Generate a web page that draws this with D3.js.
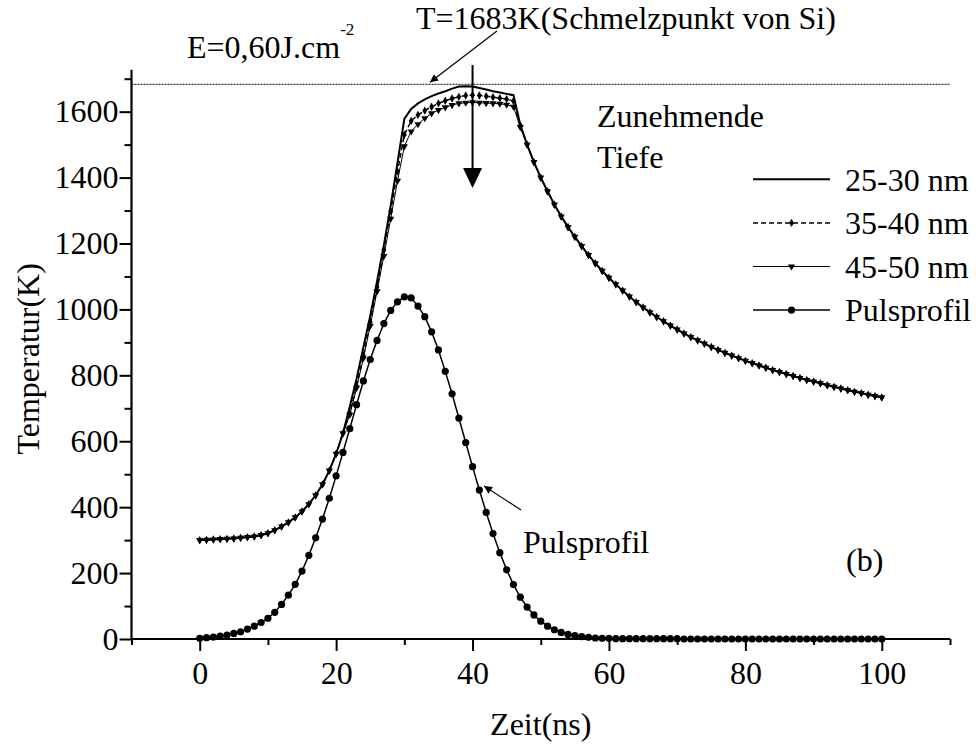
<!DOCTYPE html>
<html>
<head>
<meta charset="utf-8">
<script src="https://cdn.jsdelivr.net/npm/d3@7"></script>
<style>
  body { margin: 0; background: #fff; }
  svg { display: block; }
  text { font-family: "Liberation Serif", "Times New Roman", serif; fill: #000; }
</style>
</head>
<body>
<div id="wrapper"></div>
<script>
// Zeitachse (ns), Schritt 1 ns
const zeit = d3.range(0, 101, 1);

// gemeinsamer Anstieg 0..21 ns
const anstieg = [300, 301, 302, 303, 304, 305, 307, 309, 311, 315, 321,
    330, 341, 354, 369, 387, 409, 436, 469, 511, 562, 624];

// Spitzenbereich 22..47 ns, je Tiefe
const spitze25 = [705, 790, 885, 980, 1085, 1195, 1315, 1445, 1578, 1608,
    1625, 1637, 1647, 1655, 1662, 1670, 1676, 1677, 1676, 1672,
    1667, 1662, 1658, 1654, 1650, 1560];
const spitze35 = [685, 768, 860, 962, 1068, 1180, 1298, 1418, 1530, 1572,
    1590, 1603, 1615, 1625, 1633, 1640, 1645, 1649, 1650, 1649,
    1647, 1644, 1641, 1638, 1632, 1558];
const spitze45 = [680, 762, 852, 950, 1055, 1162, 1275, 1390, 1495, 1540,
    1562, 1580, 1595, 1605, 1613, 1620, 1625, 1627, 1628, 1627,
    1626, 1625, 1624, 1621, 1615, 1553];

// gemeinsame Abkuehlung 48..100 ns
const abkuehlung = [1500, 1447, 1400, 1358, 1318, 1282, 1250, 1220, 1192, 1165,
    1140, 1117, 1096, 1076, 1057, 1039, 1022, 1006, 991, 977,
    964, 951, 939, 927, 916, 906, 896, 886, 877, 868,
    860, 852, 844, 837, 830, 823, 816, 810, 804, 798,
    792, 786, 781, 776, 770, 765, 760, 755, 750, 746,
    741, 737, 733];

// Pulsprofil 0..100 ns
const puls = [2, 4, 6, 9, 12, 17, 22, 30, 39, 50,
    63, 81, 105, 133, 166, 206, 254, 307, 364, 427,
    495, 566, 638, 711, 783, 848, 906, 957, 997, 1023,
    1038, 1035, 1010, 978, 932, 877, 812, 744, 670, 596,
    523, 452, 384, 320, 262, 210, 165, 127, 97, 73,
    54, 39, 28, 20, 14, 10, 7, 5, 3, 2,
    2, 1, 1, 1, 1, 1, 1, 1, 1, 1,
    1, 0, 0, 0, 0, 0, 0, 0, 0, 0,
    0, 0, 0, 0, 0, 0, 0, 0, 0, 0,
    0, 0, 0, 0, 0, 0, 0, 0, 0, 0,
    0];

const t25 = [...anstieg, ...spitze25, ...abkuehlung];
const t35 = [...anstieg, ...spitze35, ...abkuehlung];
const t45 = [...anstieg, ...spitze45, ...abkuehlung];

const legendLabels = ['25-30 nm', '35-40 nm', '45-50 nm', 'Pulsprofil'];
const xMajor = [0, 20, 40, 60, 80, 100];
const xMinor = [-10, 10, 30, 50, 70, 90, 110];
const yMajor = [0, 200, 400, 600, 800, 1000, 1200, 1400, 1600];
const yMinor = [100, 300, 500, 700, 900, 1100, 1300, 1500, 1700];
const schmelzpunkt = 1683;

function drawChart() {
    const width = 976;
    const height = 747;
    const font = 32;
    const serif = '"Liberation Serif", "Times New Roman", serif';

    const svg = d3.select('#wrapper').append('svg')
        .attr('width', width)
        .attr('height', height)
        .attr('font-family', serif);

    const xScale = d3.scaleLinear().domain([-10, 110]).range([131.5, 950]);
    const yScale = d3.scaleLinear().domain([0, 1700]).range([639, 78.7]);

    // axes
    const yAxisMinor = d3.axisLeft(yScale).tickValues(yMinor).tickSize(7).tickFormat('');
    const yAxis = d3.axisLeft(yScale).tickValues(yMajor).tickSize(12).tickPadding(1)
        .tickFormat(d3.format('d'));
    const xAxisMinor = d3.axisBottom(xScale).tickValues(xMinor).tickSize(6).tickFormat('');
    const xAxis = d3.axisBottom(xScale).tickValues(xMajor).tickSize(12).tickPadding(10)
        .tickFormat(d3.format('d'));

    const yG = svg.append('g').attr('transform', `translate(${xScale(-10)},0)`);
    yG.append('g').call(yAxisMinor);
    yG.append('g').call(yAxis);
    const xG = svg.append('g').attr('transform', `translate(0,${yScale(0)})`);
    xG.append('g').call(xAxisMinor);
    xG.append('g').call(xAxis);

    svg.selectAll('.domain').remove();
    svg.selectAll('.tick line').attr('stroke', '#000').attr('stroke-width', 2);
    [yG, xG].forEach(g => g.selectAll('g')
        .attr('font-family', serif)
        .attr('font-size', font));
    svg.selectAll('.tick text').attr('fill', '#000');

    svg.append('line')
        .attr('x1', xScale(-10)).attr('x2', xScale(-10))
        .attr('y1', yScale(0) + 1).attr('y2', yScale(1727))
        .attr('stroke', '#000').attr('stroke-width', 2.2);
    svg.append('line')
        .attr('x1', xScale(-10)).attr('x2', xScale(110))
        .attr('y1', yScale(0)).attr('y2', yScale(0))
        .attr('stroke', '#000').attr('stroke-width', 2.2);

    // helper for plain texts
    const label = (x, y, str) => svg.append('text')
        .attr('x', x).attr('y', y)
        .attr('font-family', serif)
        .attr('font-size', font)
        .text(str);

    // axis titles
    svg.append('text')
        .attr('transform', `translate(28, ${yScale(850)}) rotate(-90)`)
        .attr('text-anchor', 'middle')
        .attr('dominant-baseline', 'central')
        .attr('font-family', serif)
        .attr('font-size', font)
        .text('Temperatur(K)');
    label(xScale(50), 735, 'Zeit(ns)').attr('text-anchor', 'middle');

    // melting point line
    svg.append('line')
        .attr('x1', xScale(-10)).attr('x2', xScale(110))
        .attr('y1', yScale(schmelzpunkt)).attr('y2', yScale(schmelzpunkt))
        .attr('stroke', '#000').attr('stroke-width', 1)
        .attr('stroke-dasharray', '2,1');

    const line = values => d3.line()
        .x((d, i) => xScale(zeit[i]))
        .y(d => yScale(d))(values);

    const plot = svg.append('g');

    // 45-50 nm: thin line, down triangles
    plot.append('path')
        .attr('d', line(t45))
        .attr('fill', 'none').attr('stroke', '#000').attr('stroke-width', 1);
    const tri = d3.symbol().type(d3.symbolTriangle).size(22);
    plot.append('g').selectAll('path').data(t45).join('path')
        .attr('d', tri)
        .attr('transform', (d, i) => `translate(${xScale(zeit[i])},${yScale(d)}) rotate(180)`)
        .attr('fill', '#000');

    // 35-40 nm: dashed line, diamonds
    plot.append('path')
        .attr('d', line(t35))
        .attr('fill', 'none').attr('stroke', '#000').attr('stroke-width', 1.5)
        .attr('stroke-dasharray', '5,3');
    const dia = d3.symbol().type(d3.symbolDiamond).size(20);
    plot.append('g').selectAll('path').data(t35).join('path')
        .attr('d', dia)
        .attr('transform', (d, i) => `translate(${xScale(zeit[i])},${yScale(d)})`)
        .attr('fill', '#000');

    // 25-30 nm: solid line
    plot.append('path')
        .attr('d', line(t25))
        .attr('fill', 'none').attr('stroke', '#000').attr('stroke-width', 2);

    // Pulsprofil
    plot.append('path')
        .attr('d', line(puls))
        .attr('fill', 'none').attr('stroke', '#000').attr('stroke-width', 1.5);
    plot.append('g').selectAll('circle').data(puls).join('circle')
        .attr('cx', (d, i) => xScale(zeit[i]))
        .attr('cy', d => yScale(d))
        .attr('r', 3.6)
        .attr('fill', '#000');

    // arrow marker
    svg.append('defs').append('marker')
        .attr('id', 'head')
        .attr('viewBox', '0 0 10 10')
        .attr('refX', 10).attr('refY', 5)
        .attr('markerWidth', 12).attr('markerHeight', 8)
        .attr('markerUnits', 'userSpaceOnUse')
        .attr('orient', 'auto')
        .append('path').attr('d', 'M0,0 L10,5 L0,10 Z').attr('fill', '#000');

    // annotations
    label(416, 29, 'T=1683K(Schmelzpunkt von Si)');
    svg.append('line')
        .attr('x1', 497).attr('y1', 31)
        .attr('x2', 430).attr('y2', yScale(schmelzpunkt) - 2)
        .attr('stroke', '#000').attr('stroke-width', 1.2)
        .attr('marker-end', 'url(#head)');

    const eText = label(187, 58, 'E=0,60J.cm');
    eText.append('tspan')
        .attr('dx', 0).attr('dy', -23)
        .attr('font-size', 17)
        .text('-2');

    // vertical arrow "Zunehmende Tiefe"
    const ax = xScale(40);
    svg.append('line')
        .attr('x1', ax).attr('x2', ax)
        .attr('y1', 65).attr('y2', 170)
        .attr('stroke', '#000').attr('stroke-width', 2);
    svg.append('path')
        .attr('d', `M${ax - 9.5},168 L${ax + 9.5},168 L${ax},188 Z`)
        .attr('fill', '#000');

    label(597, 127, 'Zunehmende');
    label(597, 168, 'Tiefe');

    label(523, 553, 'Pulsprofil');
    svg.append('line')
        .attr('x1', 521).attr('y1', 510)
        .attr('x2', 484).attr('y2', 486)
        .attr('stroke', '#000').attr('stroke-width', 1.2)
        .attr('marker-end', 'url(#head)');

    label(846, 571, '(b)');

    // legend
    const legend = svg.append('g');
    const rows = legend.selectAll('g').data(legendLabels).join('g')
        .attr('transform', (d, i) => `translate(753, ${179.3 + i * 43.6})`);
    rows.append('line')
        .attr('x1', 0).attr('x2', 77)
        .attr('stroke', '#000')
        .attr('stroke-width', (d, i) => [2, 1.5, 1, 1.5][i])
        .attr('stroke-dasharray', (d, i) => i === 1 ? '5,3' : null);
    rows.filter((d, i) => i === 1).append('path')
        .attr('d', dia).attr('transform', 'translate(38.5,0)');
    rows.filter((d, i) => i === 2).append('path')
        .attr('d', tri).attr('transform', 'translate(38.5,0) rotate(180)');
    rows.filter((d, i) => i === 3).append('circle')
        .attr('cx', 38.5).attr('r', 3.6);
    rows.append('text')
        .attr('x', 92)
        .attr('dy', '0.35em')
        .attr('font-family', serif)
        .attr('font-size', font)
        .text(d => d);
}

drawChart();
</script>
</body>
</html>
